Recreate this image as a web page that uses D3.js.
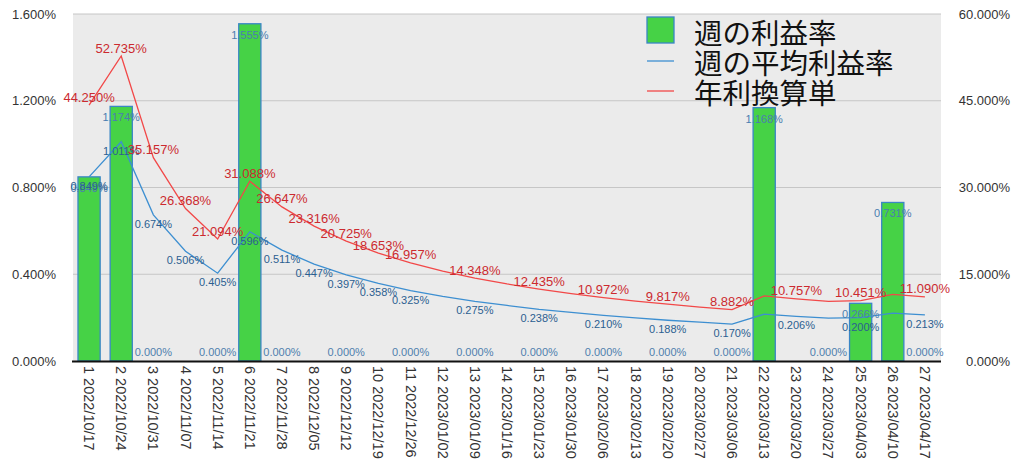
<!DOCTYPE html>
<html><head><meta charset="utf-8">
<script src="https://cdn.jsdelivr.net/npm/d3@7"></script>
<style>
html,body{margin:0;padding:0;background:#fff;}
svg{display:block;}
</style></head>
<body>
<svg id="chart" width="1024" height="471"></svg>
<script>
const categories = ["1 2022/10/17","2 2022/10/24","3 2022/10/31","4 2022/11/07","5 2022/11/14","6 2022/11/21","7 2022/11/28","8 2022/12/05","9 2022/12/12","10 2022/12/19","11 2022/12/26","12 2023/01/02","13 2023/01/09","14 2023/01/16","15 2023/01/23","16 2023/01/30","17 2023/02/06","18 2023/02/13","19 2023/02/20","20 2023/02/27","21 2023/03/06","22 2023/03/13","23 2023/03/20","24 2023/03/27","25 2023/04/03","26 2023/04/10","27 2023/04/17"];
const weeklyProfit = [0.849,1.174,0,0,0,1.555,0,0,0,0,0,0,0,0,0,0,0,0,0,0,0,1.168,0,0,0.266,0.731,0];
const weeklyAverage = [0.849,1.011,0.674,0.506,0.405,0.596,0.511,0.447,0.397,0.358,0.325,0.298,0.275,0.256,0.238,0.224,0.210,0.199,0.188,0.179,0.170,0.216,0.206,0.198,0.200,0.221,0.213];
const annualized = [44.250,52.735,35.157,26.368,21.094,31.088,26.647,23.316,20.725,18.653,16.957,15.541,14.348,13.325,12.435,11.658,10.972,10.364,9.817,9.327,8.882,11.249,10.757,10.310,10.451,11.518,11.090];
const leftTicks = [0,0.4,0.8,1.2,1.6];
const rightTicks = [0,15,30,45,60];
const legendLabels = ["週の利益率","週の平均利益率","年利換算単"];
// which points carry value labels (1-based category numbers)
const barLabelIdx = [1,2,6,22,25,26];
const zeroLabelIdx = [3,5,7,9,11,13,15,17,19,21,24,27];
const avgLabelIdx = [1,2,3,4,5,6,7,8,9,10,11,13,15,17,19,21,23,25,27];
const annLabelIdx = [1,2,3,4,5,6,7,8,9,10,11,13,15,17,19,21,23,25,27];

const svg = d3.select("#chart");
const L = 73, R = 941, T = 14, B = 361;
const numFont = "'Liberation Sans', Arial, Helvetica, sans-serif";

const x = d3.scaleBand().domain(d3.range(categories.length)).range([L, R]).padding(0);
const yL = d3.scaleLinear().domain([0, 1.6]).range([B, T]);
const yR = d3.scaleLinear().domain([0, 60]).range([B, T]);
const cx = i => x(i) + x.bandwidth() / 2;
const fmt = v => v.toFixed(3) + "%";

// background
svg.append("rect").attr("x", L).attr("y", T).attr("width", R - L).attr("height", B - T).attr("fill", "#ebebeb");
// grid
svg.append("g").selectAll("line").data(leftTicks.slice(1)).join("line")
  .attr("x1", L).attr("x2", R).attr("y1", d => yL(d)).attr("y2", d => yL(d))
  .attr("stroke", "#c6c6c6").attr("stroke-width", 1);

// left axis
const axL = d3.axisLeft(yL).tickValues(leftTicks).tickFormat(fmt).tickSize(0).tickPadding(17);
const gL = svg.append("g").attr("transform", `translate(${L},0)`).call(axL);
gL.select(".domain").remove();
gL.selectAll("text").attr("font-family", numFont).attr("font-size", 13).attr("fill", "#333");

// right axis
const axR = d3.axisRight(yR).tickValues(rightTicks).tickFormat(fmt).tickSize(0).tickPadding(0);
const gR = svg.append("g").attr("transform", `translate(1010,0)`).call(axR);
gR.select(".domain").remove();
gR.selectAll("text").attr("font-family", numFont).attr("font-size", 13).attr("fill", "#333").attr("text-anchor", "end");

// bars
const bw = x.bandwidth() * 0.69;
svg.append("g").selectAll("rect").data(weeklyProfit.map((v, i) => ({v, i})).filter(d => d.v > 0)).join("rect")
  .attr("x", d => cx(d.i) - bw / 2).attr("y", d => yL(d.v))
  .attr("width", bw).attr("height", d => B - yL(d.v))
  .attr("fill", "#46d246").attr("stroke", "#3a86c6").attr("stroke-width", 1.3);

// bottom axis line
svg.append("line").attr("x1", L - 1).attr("x2", R).attr("y1", B + 0.5).attr("y2", B + 0.5)
  .attr("stroke", "#111").attr("stroke-width", 2);

// lines
const avgLine = d3.line().x((d, i) => cx(i)).y(d => yL(d));
svg.append("path").datum(weeklyAverage).attr("d", avgLine)
  .attr("fill", "none").attr("stroke", "#3d8fd1").attr("stroke-width", 1.3);
const annLine = d3.line().x((d, i) => cx(i)).y(d => yR(d));
svg.append("path").datum(annualized).attr("d", annLine)
  .attr("fill", "none").attr("stroke", "#f24848").attr("stroke-width", 1.3);

// zero labels
svg.append("g").selectAll("text").data(zeroLabelIdx).join("text")
  .attr("x", d => cx(d - 1)).attr("y", B - 5).attr("text-anchor", "middle")
  .attr("font-family", numFont).attr("font-size", 11).attr("fill", "#4f7fae")
  .text(d => fmt(weeklyProfit[d - 1]));
// bar labels
svg.append("g").selectAll("text").data(barLabelIdx).join("text")
  .attr("x", d => cx(d - 1)).attr("y", d => yL(weeklyProfit[d - 1]) + 15).attr("text-anchor", "middle")
  .attr("font-family", numFont).attr("font-size", 11).attr("fill", "#4a7db0")
  .text(d => fmt(weeklyProfit[d - 1]));
// avg labels
svg.append("g").selectAll("text").data(avgLabelIdx).join("text")
  .attr("x", d => cx(d - 1)).attr("y", d => yL(weeklyAverage[d - 1]) + 13).attr("text-anchor", "middle")
  .attr("font-family", numFont).attr("font-size", 11).attr("fill", "#2b5f91")
  .text(d => fmt(weeklyAverage[d - 1]));
// annualized labels
svg.append("g").selectAll("text").data(annLabelIdx).join("text")
  .attr("x", d => cx(d - 1)).attr("y", d => yR(annualized[d - 1]) - 3.5).attr("text-anchor", "middle")
  .attr("font-family", numFont).attr("font-size", 13).attr("fill", "#cc2a2f")
  .text(d => fmt(annualized[d - 1]));

// x labels
svg.append("g").selectAll("text").data(categories).join("text")
  .attr("transform", (d, i) => `translate(${cx(i)},366) rotate(90)`)
  .attr("text-anchor", "start").attr("dominant-baseline", "central")
  .attr("font-family", numFont).attr("font-size", 14.5).attr("fill", "#333")
  .text(d => d);

// legend
const lg = svg.append("g");
lg.append("rect").attr("x", 647).attr("y", 17).attr("width", 27).attr("height", 26)
  .attr("fill", "#46d246").attr("stroke", "#3a86c6").attr("stroke-width", 1.3);
lg.append("line").attr("x1", 647).attr("x2", 674).attr("y1", 61).attr("y2", 61).attr("stroke", "#3d8fd1").attr("stroke-width", 1.3);
lg.append("line").attr("x1", 647).attr("x2", 674).attr("y1", 91).attr("y2", 91).attr("stroke", "#f24848").attr("stroke-width", 1.3);
lg.selectAll("text").data(legendLabels).join("text")
  .attr("x", 694).attr("y", (d, i) => 31 + i * 30).attr("dominant-baseline", "central")
  .attr("font-family", "'Noto Sans CJK JP', sans-serif").attr("font-size", 28.5).attr("fill", "#111")
  .text(d => d);
</script>
</body></html>
